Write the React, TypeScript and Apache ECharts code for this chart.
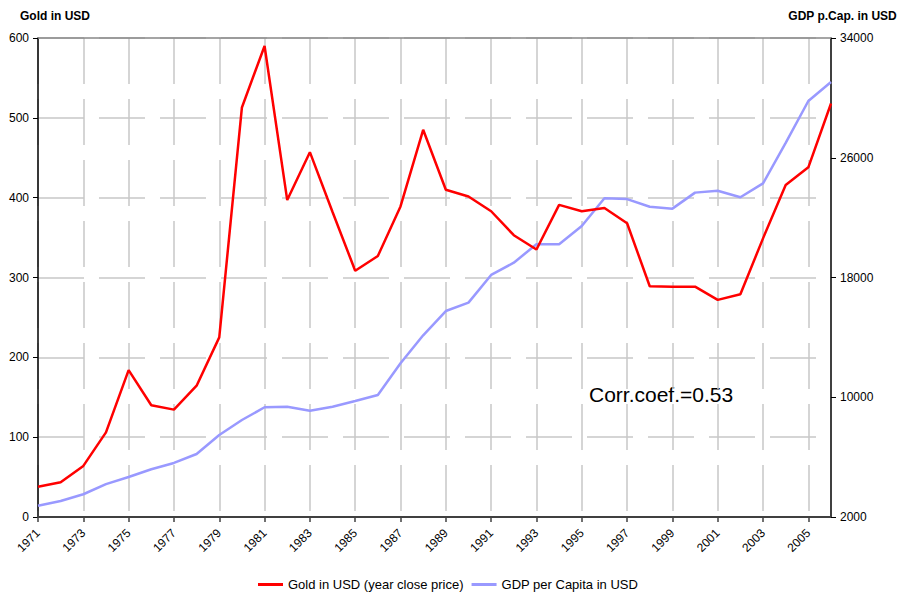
import React, { useEffect, useRef } from "react";
import * as echarts from "echarts";

const years = [
  "1971", "1972", "1973", "1974", "1975", "1976", "1977", "1978", "1979", "1980",
  "1981", "1982", "1983", "1984", "1985", "1986", "1987", "1988", "1989", "1990",
  "1991", "1992", "1993", "1994", "1995", "1996", "1997", "1998", "1999", "2000",
  "2001", "2002", "2003", "2004", "2005", "2006",
];

const goldUSD = [
  38, 43.5, 64, 106, 184, 140, 134.5, 164.5, 225, 513,
  590, 397, 457, 382, 308.5, 327, 389, 485, 410, 401.5,
  383, 353, 335, 391, 383, 387, 368, 289, 288.5, 288.5,
  272, 279, 349, 416, 438, 518,
];

const gdpPerCapita = [
  2755, 3070, 3520, 4200, 4670, 5190, 5610, 6210, 7480, 8480,
  9330, 9370, 9100, 9370, 9750, 10150, 12270, 14140, 15760, 16320,
  18170, 18990, 20220, 20220, 21440, 23290, 23240, 22730, 22600, 23670,
  23800, 23360, 24290, 26990, 29790, 31060,
];

const leftTicks = [0, 100, 200, 300, 400, 500, 600];
const rightTicks = [2000, 10000, 18000, 26000, 34000];

const goldName = "Gold in USD (year close price)";
const gdpName = "GDP per Capita in USD";
const corrText = "Corr.coef.=0.53";

const FONT = "'Liberation Sans', Arial, Helvetica, sans-serif";

export default function App() {
  const ref = useRef<HTMLDivElement>(null);

  useEffect(() => {
    if (!ref.current) return;
    const chart = echarts.init(ref.current, undefined, { renderer: "svg" });
    chart.setOption({
      animation: false,
      backgroundColor: "#ffffff",
      textStyle: { fontFamily: FONT },
      grid: { left: 38, right: 68, top: 38, bottom: 79, containLabel: false },
      legend: {
        left: 258,
        top: 578,
        padding: 0,
        itemWidth: 25,
        itemHeight: 3,
        itemGap: 8,
        icon: "rect",
        textStyle: { fontFamily: FONT, fontSize: 13, color: "#000" },
        data: [goldName, gdpName],
      },
      xAxis: [
        {
          type: "category",
          data: years,
          boundaryGap: false,
          axisLine: { show: true, lineStyle: { color: "#404040", width: 2 } },
          axisTick: { show: true, interval: 1, length: 5, lineStyle: { color: "#404040", width: 1.5 } },
          axisLabel: {
            interval: 1,
            rotate: 45,
            margin: 14,
            fontSize: 12,
            color: "#000",
            fontFamily: FONT,
          },
          splitLine: {
            show: true,
            interval: 1,
            lineStyle: { color: "#c8c8c8", width: 1.5, type: [46, 15] },
          },
        },
        {
          type: "category",
          data: years,
          position: "top",
          boundaryGap: false,
          axisLine: { show: true, lineStyle: { color: "#888888", width: 1.5 } },
          axisTick: { show: false },
          axisLabel: { show: false },
          splitLine: { show: false },
        },
      ],
      yAxis: [
        {
          type: "value",
          min: 0,
          max: 600,
          interval: 100,
          position: "left",
          axisLine: { show: true, lineStyle: { color: "#000", width: 1.5 } },
          axisTick: { show: true, length: 5, lineStyle: { color: "#000" } },
          axisLabel: {
            margin: 9,
            fontSize: 12,
            color: "#000",
            fontFamily: FONT,
            customValues: leftTicks,
            formatter: (v: number) => String(v),
          },
          splitLine: {
            show: true,
            lineStyle: { color: "#c8c8c8", width: 1.5, type: [46, 15] },
          },
        },
        {
          type: "value",
          min: 2000,
          max: 34000,
          position: "right",
          axisLine: { show: true, lineStyle: { color: "#000", width: 1.5 } },
          axisTick: { show: true, length: 5, customValues: rightTicks, lineStyle: { color: "#000" } },
          axisLabel: {
            margin: 9,
            fontSize: 12,
            color: "#000",
            fontFamily: FONT,
            customValues: rightTicks,
            formatter: (v: number) => String(v),
          },
          splitLine: { show: false },
        },
      ],
      series: [
        {
          name: gdpName,
          type: "line",
          xAxisIndex: 0,
          yAxisIndex: 1,
          data: gdpPerCapita,
          symbol: "none",
          color: "#9999ff",
          lineStyle: { color: "#9999ff", width: 2.5 },
        },
        {
          name: goldName,
          type: "line",
          xAxisIndex: 0,
          yAxisIndex: 0,
          data: goldUSD,
          symbol: "none",
          color: "#ff0000",
          lineStyle: { color: "#ff0000", width: 2.5 },
        },
      ],
      graphic: [
        {
          type: "text",
          left: 20,
          top: 10,
          style: { text: "Gold in USD", font: `bold 12px ${FONT}`, fill: "#000" },
        },
        {
          type: "text",
          right: 2,
          top: 10,
          style: { text: "GDP p.Cap. in USD", font: `bold 12px ${FONT}`, fill: "#000" },
        },
        {
          type: "text",
          left: 589,
          top: 384,
          style: { text: corrText, font: `21px ${FONT}`, fill: "#000" },
        },
      ],
    });
    return () => chart.dispose();
  }, []);

  return (
    <div
      ref={ref}
      style={{ position: "fixed", left: 0, top: 0, width: 899, height: 596 }}
    />
  );
}
